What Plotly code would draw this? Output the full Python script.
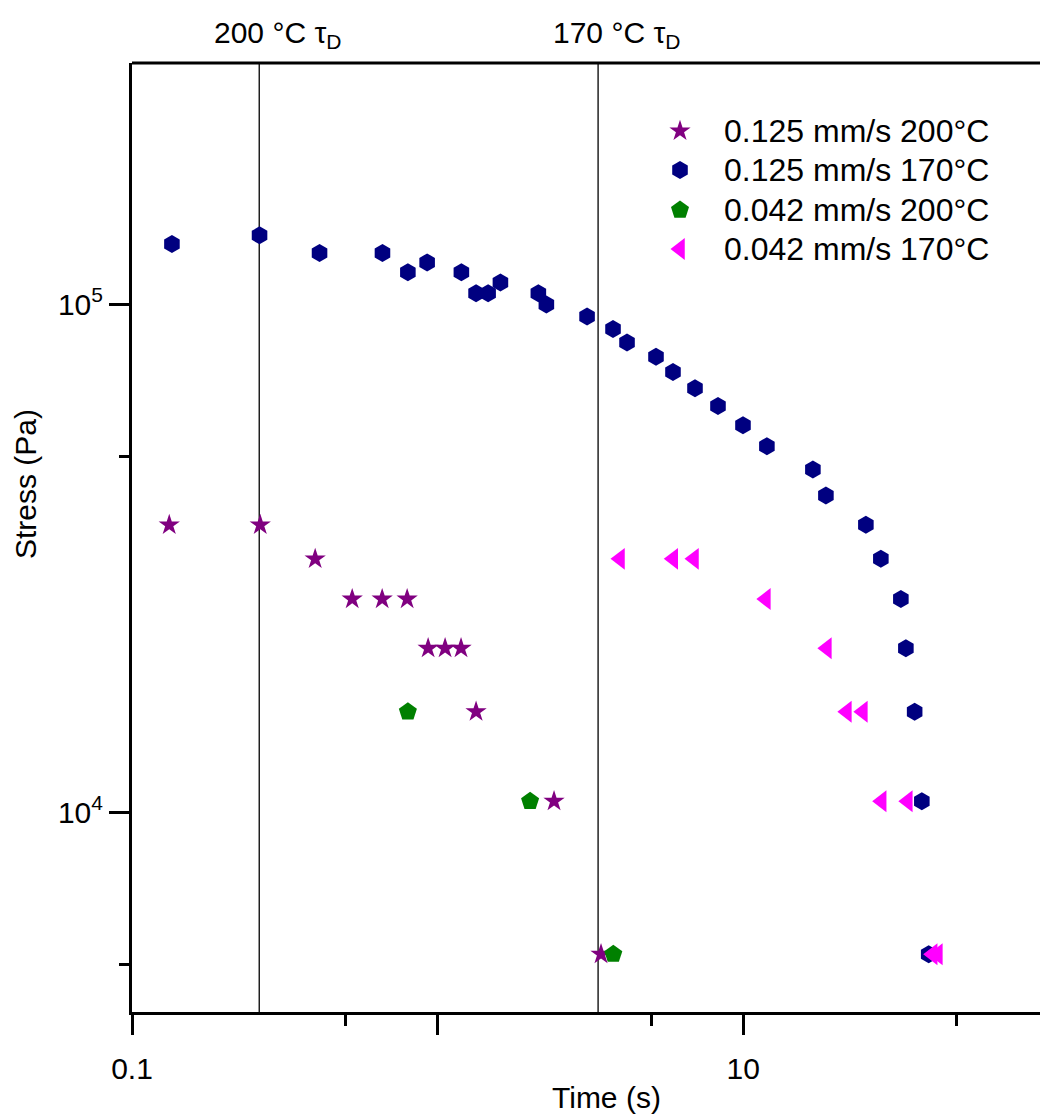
import numpy as np
import plotly.graph_objects as go

# ---- data ----
star_x = [0.1324, 0.2628, 0.3975, 0.5254, 0.6585, 0.7949, 0.931, 1.058, 1.193, 1.336, 2.404, 3.425]
star_y = [36750, 36750, 31500, 26250, 26250, 26250, 21000, 21000, 21000, 15750, 10500, 5250]

hex_x = [0.1351, 0.2614, 0.4108, 0.66, 0.7992, 0.924, 1.196, 1.336, 1.463, 1.605, 2.136, 2.269,
         3.083, 3.749, 4.166, 5.182, 5.89, 6.952, 8.267, 9.98, 11.95, 16.9, 18.64, 25.19, 28.2,
         32.79, 34.05, 36.38, 38.4, 40.44]
hex_y = [131250, 136500, 126000, 126000, 115500, 120750, 115500, 105000, 105000, 110250, 105000, 99750,
         94500, 89250, 84000, 78750, 73500, 68250, 63000, 57750, 52500, 47250, 42000, 36750, 31500,
         26250, 21000, 15750, 10500, 5250]

pent_x = [0.7992, 2.007, 3.757]
pent_y = [15750, 10500, 5250]

tri_x = [3.952, 5.903, 6.9, 11.86, 18.78, 21.83, 24.63, 28.38, 34.56, 41.68, 43.33]
tri_y = [31500, 31500, 31500, 26250, 21000, 15750, 15750, 10500, 10500, 5250, 5250]

tau_x = [0.2608, 3.35]
tau_labels = ["200 °C τ<sub>D</sub>", "170 °C τ<sub>D</sub>"]

series_names = ["0.125 mm/s 200°C", "0.125 mm/s 170°C", "0.042 mm/s 200°C", "0.042 mm/s 170°C"]
series_colors = ["#800080", "#000080", "#008000", "#FF00FF"]
series_symbols = ["star", "hexagon", "pentagon", "triangle-left"]
series_sizes = [16, 18, 19, 19]

x_tickvals = [0.1, 1, 10]
x_ticktext = ["0.1", "", "10"]
x_minor = [0.5, 5, 50]
y_tickvals = [1e4, 1e5]
y_ticktext = ["10<sup>4</sup>", "10<sup>5</sup>"]
y_minor = [5e3, 5e4]

XRANGE = [-1, 1.971]
YRANGE = [3.6063, 5.4744]

FONT = "Liberation Sans, Arial, sans-serif"

W, H = 1040, 1115
L, R, T, B = 132, 0, 63, 103
pw, ph = W - L - R, H - T - B


def px2paper_x(px):
    return (px - L) / pw


def px2paper_y(py):
    return 1 - (py - T) / ph


fig = go.Figure()

# vertical tau lines
for tx in tau_x:
    fig.add_trace(go.Scatter(x=[tx, tx], y=[10 ** YRANGE[0], 10 ** YRANGE[1]], mode="lines",
                             line=dict(color="black", width=1.3), showlegend=False, hoverinfo="skip"))

all_x = [star_x, hex_x, pent_x, tri_x]
all_y = [star_y, hex_y, pent_y, tri_y]
for xs, ys, nm, col, sym, sz in zip(all_x, all_y, series_names, series_colors, series_symbols, series_sizes):
    fig.add_trace(go.Scatter(x=xs, y=ys, mode="markers", name=nm, showlegend=False,
                             marker=dict(symbol=sym, size=sz, color=col, line=dict(width=0))))

# manual legend (markers on an overlay axis in [0,1] paper-like coords + text annotations)
leg_rows_px = [131, 170, 210, 249]
leg_marker_px = 680
leg_text_px = 722
for i, (nm, col, sym, sz) in enumerate(zip(series_names, series_colors, series_symbols, series_sizes)):
    fig.add_trace(go.Scatter(x=[px2paper_x(leg_marker_px)], y=[px2paper_y(leg_rows_px[i])],
                             xaxis="x2", yaxis="y2", mode="markers", showlegend=False, hoverinfo="skip",
                             marker=dict(symbol=sym, size=sz, color=col, line=dict(width=0))))
    fig.add_annotation(x=px2paper_x(leg_text_px), y=px2paper_y(leg_rows_px[i]), xref="paper", yref="paper",
                       text=nm, showarrow=False, xanchor="left", yanchor="middle",
                       font=dict(size=32, color="black", family=FONT))

for tx, lab in zip(tau_x, tau_labels):
    fig.add_annotation(x=np.log10(tx), y=1, xref="x", yref="paper", text=lab, showarrow=False,
                       xanchor="center", yanchor="bottom", xshift=18, yshift=8,
                       font=dict(size=30, color="black", family=FONT))

# axis titles
fig.add_annotation(x=px2paper_x(606), y=px2paper_y(1097), xref="paper", yref="paper", text="Time (s)",
                   showarrow=False, xanchor="center", yanchor="middle",
                   font=dict(size=30, color="black", family=FONT))
fig.add_annotation(x=px2paper_x(25), y=px2paper_y(484), xref="paper", yref="paper", text="Stress (Pa)",
                   textangle=-90, showarrow=False, xanchor="center", yanchor="middle",
                   font=dict(size=30, color="black", family=FONT))

# top border line
fig.add_shape(type="line", xref="paper", yref="paper", x0=0, x1=1, y0=1, y1=1,
              line=dict(color="black", width=3))

fig.update_layout(
    width=W, height=H,
    margin=dict(l=L, r=R, t=T, b=B),
    paper_bgcolor="white", plot_bgcolor="white",
    font=dict(family=FONT, size=30, color="black"),
    showlegend=False,
    xaxis=dict(type="log", range=XRANGE, showgrid=False, zeroline=False, automargin=False,
               showline=True, linecolor="black", linewidth=3,
               ticks="outside", ticklen=20, tickwidth=3, tickcolor="black", ticklabelstandoff=8,
               tickvals=x_tickvals, ticktext=x_ticktext, tickfont=dict(size=30),
               minor=dict(tickvals=x_minor, ticks="outside", ticklen=11, tickwidth=3, tickcolor="black", showgrid=False)),
    yaxis=dict(type="log", range=YRANGE, showgrid=False, zeroline=False, automargin=False,
               showline=True, linecolor="black", linewidth=3,
               ticks="outside", ticklen=20, tickwidth=3, tickcolor="black",
               tickvals=y_tickvals, ticktext=y_ticktext, tickfont=dict(size=30),
               minor=dict(tickvals=y_minor, ticks="outside", ticklen=10, tickwidth=3, tickcolor="black", showgrid=False)),
    xaxis2=dict(overlaying="x", range=[0, 1], visible=False, anchor="y2", fixedrange=True),
    yaxis2=dict(overlaying="y", range=[0, 1], visible=False, anchor="x2", fixedrange=True),
)

fig.write_html("out.html", config={"displayModeBar": False},
               post_script="document.body.style.margin='0px';")
